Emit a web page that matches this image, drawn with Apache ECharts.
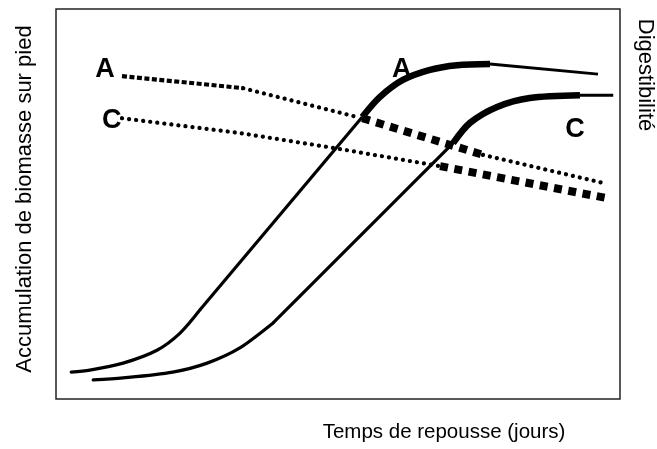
<!DOCTYPE html>
<html>
<head>
<meta charset="utf-8">
<script src="https://cdn.jsdelivr.net/npm/echarts@6/dist/echarts.min.js"></script>
<style>
  html, body { margin: 0; padding: 0; background: #fff; }
  #chart { width: 657px; height: 449px; }
</style>
</head>
<body>
<div id="chart"></div>
<script>
// x: temps de repousse (0-100), y: unités arbitraires (0-100)
const biomA_courbe = [[2.7, 6.9], [6.0, 7.4], [11.9, 9.2], [17.9, 12.5], [22.0, 16.9], [25.5, 22.8]]
const biomA_droite = [[25.5, 22.8], [54.3, 72.3]]
const biomA_plein = [[54.3, 72.3], [57.4, 77.4], [61.5, 81.8], [66.3, 84.4], [71.1, 85.6], [76.95, 85.9]]
const biomA_fin = [[76.95, 85.9], [96.1, 83.3]]

const biomC_courbe = [[6.6, 4.9], [11.9, 5.4], [20.7, 6.9], [26.8, 9.2], [32.6, 13.1], [38.5, 19.5]]
const biomC_droite = [[38.5, 19.5], [70.4, 65.6]]
const biomC_plein = [[70.4, 65.6], [73.4, 70.8], [78.2, 74.9], [84.0, 77.2], [92.9, 77.9]]
const biomC_fin = [[92.9, 77.9], [98.8, 77.9]]

const digA_carres = [[11.7, 82.8], [33.2, 79.7]]
const digA_points1 = [[33.2, 79.7], [53.4, 72.3]]
const digA_tirets = [[54.3, 72.0], [75.7, 62.6]]
const digA_points2 = [[75.7, 62.6], [97.0, 55.4]]

const digC_points = [[11.7, 72.0], [32.6, 68.2], [49.1, 64.4], [68.1, 59.7]]
const digC_tirets = [[68.1, 59.7], [97.7, 51.5]]

const etiquettes = [
  { name: 'A', value: [8.7, 84.6] },
  { name: 'C', value: [9.9, 71.3] },
  { name: 'A', value: [61.3, 84.6] },
  { name: 'C', value: [92.0, 69.2] },
]

const police = 'Liberation Sans, Arial, sans-serif'

const ligne = (data, width, extra, smooth) => ({
  type: 'line',
  data,
  symbol: 'none',
  silent: true,
  smooth: smooth || false,
  lineStyle: Object.assign({ color: '#000', width, cap: 'butt' }, extra || {}),
})

const chart = echarts.init(document.getElementById('chart'))

chart.setOption({
  animation: false,
  grid: {
    left: 56,
    right: 37,
    top: 9,
    bottom: 50,
    show: true,
    borderColor: '#222',
    borderWidth: 1.5,
  },
  xAxis: { type: 'value', min: 0, max: 100, show: false },
  yAxis: { type: 'value', min: 0, max: 100, show: false },
  graphic: [
    {
      type: 'text',
      x: 25,
      y: 199,
      rotation: Math.PI / 2,
      style: {
        text: 'Accumulation de biomasse sur pied',
        font: '22px ' + police,
        fill: '#000',
        align: 'center',
        verticalAlign: 'middle',
      },
    },
    {
      type: 'text',
      x: 645,
      y: 75,
      rotation: -Math.PI / 2,
      style: {
        text: 'Digestibilité',
        font: '22px ' + police,
        fill: '#000',
        align: 'center',
        verticalAlign: 'middle',
      },
    },
    {
      type: 'text',
      x: 444,
      y: 432,
      style: {
        text: 'Temps de repousse (jours)',
        font: '20.5px ' + police,
        fill: '#000',
        align: 'center',
        verticalAlign: 'middle',
      },
    },
  ],
  series: [
    ligne(biomA_courbe, 3.2, { cap: 'round' }, 0.3),
    ligne(biomA_droite, 3.2),
    ligne(biomA_plein, 6.5, null, 0.3),
    ligne(biomA_fin, 3),
    ligne(biomC_courbe, 3.2, { cap: 'round' }, 0.3),
    ligne(biomC_droite, 3.2),
    ligne(biomC_plein, 6.5, null, 0.3),
    ligne(biomC_fin, 3),
    ligne(digA_carres, 4.2, { type: [5, 2.5] }),
    ligne(digA_points1, 4.2, { type: [0.1, 7], cap: 'round' }),
    ligne(digA_tirets, 8, { type: [8, 6.5] }),
    ligne(digA_points2, 4.2, { type: [0.1, 7], cap: 'round' }),
    ligne(digC_points, 4.2, { type: [0.1, 7], cap: 'round' }),
    ligne(digC_tirets, 8, { type: [8, 6.5] }),
    {
      type: 'scatter',
      data: etiquettes,
      symbolSize: 1,
      silent: true,
      itemStyle: { color: '#fff', opacity: 1 },
      label: {
        show: true,
        position: 'inside',
        formatter: (p) => p.name,
        color: '#000',
        opacity: 1,
        textBorderWidth: 0,
        fontFamily: police,
        fontWeight: 'bold',
        fontSize: 27,
      },
    },
  ],
})
</script>
</body>
</html>
